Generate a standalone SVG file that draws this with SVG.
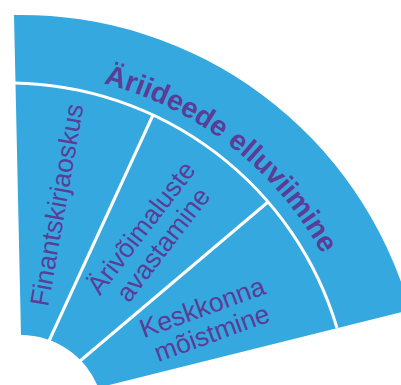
<svg xmlns="http://www.w3.org/2000/svg" width="401" height="385" viewBox="0 0 401 385">
<style>
.seg{fill:#36A8E0;}
.div{fill:none;stroke:#FFFFFF;stroke-width:3;}
.lbl{font-family:"Liberation Sans",Arial,sans-serif;font-size:26.5px;fill:#5A3D97;}
.title{font-family:"Liberation Sans",Arial,sans-serif;font-size:28.5px;font-weight:bold;fill:#5A3D97;}
</style>
<defs>
<path id="arcText" d="M63.7,75.4 A350,350 0 0,1 339.5,290.9"/>
</defs>
<rect width="401" height="385" fill="#FFFFFF"/>
<g id="fan">
<path class="seg" d="M14,15 A404,404 0 0,1 410,310 L98.3,387.7 A83,83 0 0,0 21,335 Z"/>
</g>
<g id="connectors">
<path class="div" d="M14,83 A343,343 0 0,1 337,328"/>
<line class="div" x1="153" y1="115" x2="49" y2="341"/>
<line class="div" x1="268" y1="202" x2="80" y2="361"/>
</g>
<g id="node-elluviimine">
<text class="title"><textPath href="#arcText" startOffset="50%" text-anchor="middle">Äriideede elluviimine</textPath></text>
</g>
<g id="node-finants">
<text class="lbl" text-anchor="middle" transform="translate(57,205) rotate(-80)" y="9">Finantskirjaoskus</text>
</g>
<g id="node-arivoimaluste">
<text class="lbl" text-anchor="middle" transform="translate(152,236) rotate(-52.5)"><tspan x="0" y="-4.5">Ärivõimaluste</tspan><tspan x="0" y="23">avastamine</tspan></text>
</g>
<g id="node-keskkond">
<text class="lbl" text-anchor="middle" transform="translate(207,320) rotate(-20)"><tspan x="0" y="-4.5">Keskkonna</tspan><tspan x="0" y="23">mõistmine</tspan></text>
</g>
</svg>
